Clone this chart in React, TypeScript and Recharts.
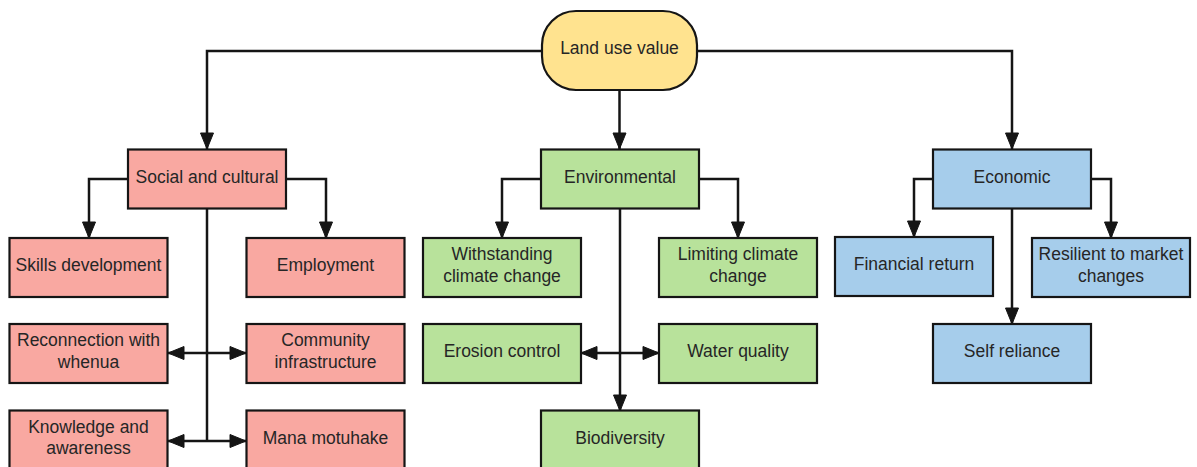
import { Scatter, ScatterChart, XAxis, YAxis } from "recharts";

const WIDTH = 1197;
const HEIGHT = 467;

type NodeDatum = { label: string[]; x: number; y: number; group: string };
type EdgePoint = { x: number; y: number; arrow?: "down" | "left" | "right" };

// diagram layout units match the picture, 1 unit = 1 px
const rootNodes: NodeDatum[] = [
  { label: ["Land use value"], x: 619.5, y: 50.5, group: "root" },
];

const branchNodes: NodeDatum[] = [
  { label: ["Social and cultural"], x: 207, y: 179, group: "social" },
  { label: ["Environmental"], x: 620, y: 179, group: "env" },
  { label: ["Economic"], x: 1012, y: 179, group: "econ" },
];

const leafNodes: NodeDatum[] = [
  { label: ["Skills development"], x: 88.5, y: 267.5, group: "social" },
  { label: ["Employment"], x: 325.5, y: 267.5, group: "social" },
  { label: ["Reconnection with", "whenua"], x: 88.5, y: 353.5, group: "social" },
  { label: ["Community", "infrastructure"], x: 325.5, y: 353.5, group: "social" },
  { label: ["Knowledge and", "awareness"], x: 88.5, y: 440, group: "social" },
  { label: ["Mana motuhake"], x: 325.5, y: 440, group: "social" },
  { label: ["Withstanding", "climate change"], x: 502, y: 267.5, group: "env" },
  { label: ["Limiting climate", "change"], x: 738, y: 267.5, group: "env" },
  { label: ["Erosion control"], x: 502, y: 353.5, group: "env" },
  { label: ["Water quality"], x: 738, y: 353.5, group: "env" },
  { label: ["Biodiversity"], x: 620, y: 440, group: "env" },
  { label: ["Financial return"], x: 914, y: 266.5, group: "econ" },
  { label: ["Resilient to market", "changes"], x: 1111, y: 267.5, group: "econ" },
  { label: ["Self reliance"], x: 1012, y: 353.5, group: "econ" },
];

const edges: EdgePoint[][] = [
  [{ x: 542, y: 51 }, { x: 207, y: 51 }, { x: 207, y: 149, arrow: "down" }],
  [{ x: 697, y: 51 }, { x: 1012, y: 51 }, { x: 1012, y: 149, arrow: "down" }],
  [{ x: 619.5, y: 90 }, { x: 619.5, y: 149, arrow: "down" }],
  [{ x: 128, y: 179 }, { x: 89, y: 179 }, { x: 89, y: 238, arrow: "down" }],
  [{ x: 286, y: 179 }, { x: 326, y: 179 }, { x: 326, y: 238, arrow: "down" }],
  [{ x: 207, y: 209 }, { x: 207, y: 441 }],
  [{ x: 168, y: 353, arrow: "left" }, { x: 246, y: 353, arrow: "right" }],
  [{ x: 168, y: 441, arrow: "left" }, { x: 246, y: 441, arrow: "right" }],
  [{ x: 541, y: 179 }, { x: 502, y: 179 }, { x: 502, y: 238, arrow: "down" }],
  [{ x: 699, y: 179 }, { x: 738, y: 179 }, { x: 738, y: 238, arrow: "down" }],
  [{ x: 620, y: 209 }, { x: 620, y: 411, arrow: "down" }],
  [{ x: 581, y: 353, arrow: "left" }, { x: 659, y: 353, arrow: "right" }],
  [{ x: 933, y: 179 }, { x: 914, y: 179 }, { x: 914, y: 237, arrow: "down" }],
  [{ x: 1091, y: 179 }, { x: 1111, y: 179 }, { x: 1111, y: 238, arrow: "down" }],
  [{ x: 1012, y: 209 }, { x: 1012, y: 324, arrow: "down" }],
];

const FILLS: Record<string, string> = {
  root: "#FFE38F",
  social: "#F9A8A1",
  env: "#B8E29B",
  econ: "#A6CDEB",
};
const INK = "#151515";
const TEXT = "#262626";
const FONT = "'Liberation Sans', Arial, sans-serif";
const BOX_W = 158;
const BOX_H = 59;

function NodeShape(props: any) {
  const { cx, cy, payload } = props;
  const isRoot = payload.group === "root";
  const w = isRoot ? 155 : BOX_W;
  const h = isRoot ? 79 : BOX_H;
  const lines: string[] = payload.label;
  const mid = cy - 2.5;
  return (
    <g>
      <rect
        x={cx - w / 2}
        y={cy - h / 2}
        width={w}
        height={h}
        rx={isRoot ? 34 : 0}
        fill={FILLS[payload.group]}
        stroke={INK}
        strokeWidth={2.2}
      />
      {lines.map((t, i) => (
        <text
          key={i}
          x={cx}
          y={mid + (i - (lines.length - 1) / 2) * 21.5}
          textAnchor="middle"
          dominantBaseline="central"
          fontFamily={FONT}
          fontSize={17.5}
          fill={TEXT}
        >
          {t}
        </text>
      ))}
    </g>
  );
}

function ArrowShape(props: any) {
  const { cx, cy, payload } = props;
  const len = 16;
  const half = 6.5;
  let pts = "";
  if (payload.arrow === "down") {
    pts = `${cx},${cy} ${cx - half},${cy - len} ${cx + half},${cy - len}`;
  } else if (payload.arrow === "left") {
    pts = `${cx},${cy} ${cx + len},${cy - half} ${cx + len},${cy + half}`;
  } else if (payload.arrow === "right") {
    pts = `${cx},${cy} ${cx - len},${cy - half} ${cx - len},${cy + half}`;
  } else {
    return <g />;
  }
  return <polygon points={pts} fill={INK} stroke={INK} strokeWidth={1} />;
}

export default function App() {
  return (
    <div style={{ position: "absolute", left: 0, top: 0, background: "#fff" }}>
      <ScatterChart
        width={WIDTH}
        height={HEIGHT}
        margin={{ top: 0, right: 0, bottom: 0, left: 0 }}
      >
        <XAxis type="number" dataKey="x" domain={[0, WIDTH]} allowDataOverflow hide />
        <YAxis type="number" dataKey="y" domain={[0, HEIGHT]} allowDataOverflow reversed hide />
        {edges.map((pts, i) => (
          <Scatter
            key={`e${i}`}
            data={pts}
            line={{ stroke: INK, strokeWidth: 2.5 }}
            lineType="joint"
            shape={ArrowShape}
            isAnimationActive={false}
          />
        ))}
        <Scatter data={rootNodes} shape={NodeShape} isAnimationActive={false} />
        <Scatter data={branchNodes} shape={NodeShape} isAnimationActive={false} />
        <Scatter data={leafNodes} shape={NodeShape} isAnimationActive={false} />
      </ScatterChart>
    </div>
  );
}
